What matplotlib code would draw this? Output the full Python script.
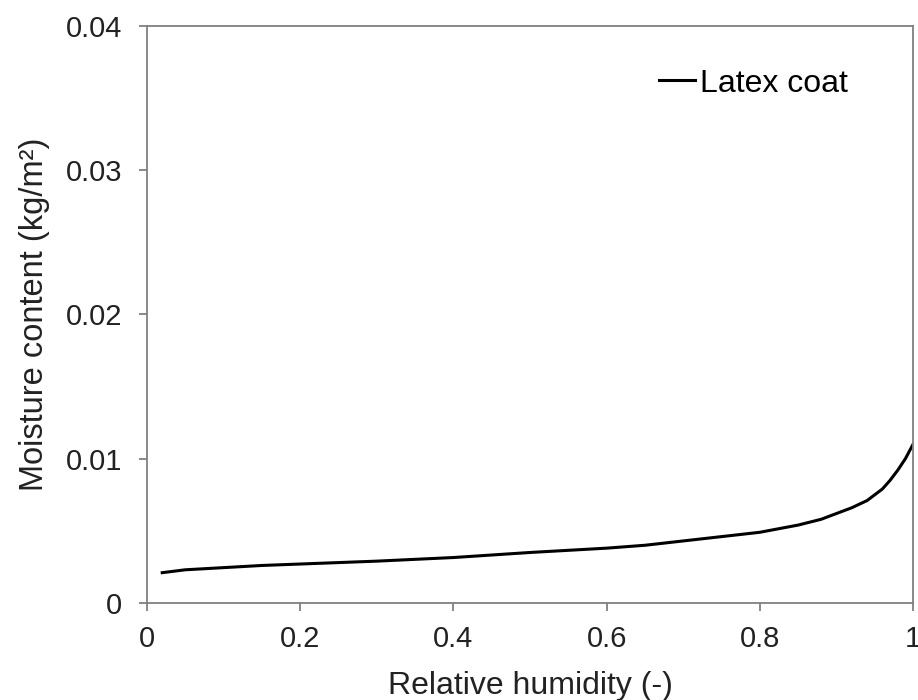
import numpy as np
import matplotlib.pyplot as plt

plt.rcParams['font.family'] = ['Liberation Sans', 'DejaVu Sans']

# sorption curve
rh = [0.02, 0.05, 0.1, 0.15, 0.2, 0.3, 0.4, 0.5, 0.6, 0.65, 0.7, 0.75, 0.8,
      0.85, 0.88, 0.9, 0.92, 0.94, 0.95, 0.96, 0.97, 0.98, 0.99, 0.995, 1.0]
moisture = [0.0021, 0.0023, 0.00245, 0.0026, 0.0027, 0.0029, 0.00315, 0.0035,
            0.0038, 0.0040, 0.0043, 0.0046, 0.0049, 0.0054, 0.0058, 0.0062,
            0.0066, 0.0071, 0.0075, 0.0079, 0.0085, 0.0092, 0.0100, 0.0105, 0.0110]

xticks = [0, 0.2, 0.4, 0.6, 0.8, 1]
xlabels = ['0', '0.2', '0.4', '0.6', '0.8', '1']
yticks = [0, 0.01, 0.02, 0.03, 0.04]
ylabels = ['0', '0.01', '0.02', '0.03', '0.04']

fig = plt.figure(figsize=(9.18, 7), dpi=100)
ax = fig.add_axes([0.160, 0.1386, 0.8346, 0.8244])
ax.plot(rh, moisture, color='black', lw=2.2, label='Latex coat')

ax.set_xlim(0, 1)
ax.set_ylim(0, 0.04)
ax.set_xticks(xticks)
ax.set_xticklabels(xlabels)
ax.set_yticks(yticks)
ax.set_yticklabels(ylabels)
for s in ax.spines.values():
    s.set_color('#808080')
    s.set_linewidth(1.3)
ax.tick_params(direction='out', length=6, width=1.3, color='#808080',
               labelsize=21, labelcolor='#222222')
ax.tick_params(axis='y', pad=12)
ax.tick_params(axis='x', pad=10)

ax.set_xlabel('Relative humidity (-)', fontsize=23, color='#222222', labelpad=13)
ax.set_ylabel('Moisture content (kg/m²)', fontsize=23.5, color='#222222', labelpad=11)

ax.legend(loc='center right', frameon=False, fontsize=23, handlelength=1.15,
          handletextpad=0.15, borderpad=0, borderaxespad=0,
          bbox_to_anchor=(0.915, 0.9))

fig.savefig('out.png', dpi=100)
